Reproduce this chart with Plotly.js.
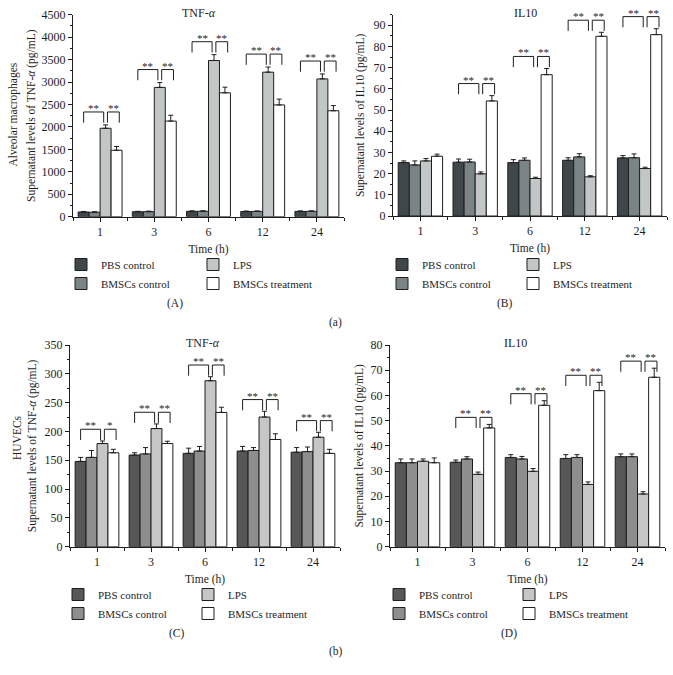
<!DOCTYPE html>
<html><head><meta charset="utf-8">
<script src="https://cdn.plot.ly/plotly-3.0.1.min.js"></script>
<style>html,body{margin:0;padding:0;background:#fff}</style>
</head><body><div id="chart" style="width:673px;height:675px"></div>
<script>
// ---------------- data ----------------
const timePoints = ["1", "3", "6", "12", "24"];
const groupNames = ["PBS control", "BMSCs control", "LPS", "BMSCs treatment"];

// (A) Alveolar macrophages, TNF-alpha (pg/mL)
const amTnfPBS       = [105, 110, 120, 115, 118];
const amTnfPBSErr    = [12, 10, 10, 12, 10];
const amTnfBMSC      = [100, 112, 122, 118, 120];
const amTnfBMSCErr   = [10, 12, 10, 10, 10];
const amTnfLPS       = [1970, 2880, 3480, 3220, 3070];
const amTnfLPSErr    = [75, 110, 130, 115, 110];
const amTnfTreat     = [1480, 2130, 2760, 2490, 2360];
const amTnfTreatErr  = [85, 130, 125, 130, 115];
const amTnfSigLeft   = ["**", "**", "**", "**", "**"];
const amTnfSigRight  = ["**", "**", "**", "**", "**"];

// (B) Alveolar macrophages, IL10 (pg/mL)
const amIl10PBS      = [25.2, 25.4, 25.2, 26.3, 27.4];
const amIl10PBSErr   = [0.8, 1.5, 1.4, 1.2, 1.1];
const amIl10BMSC     = [24.1, 25.5, 26.3, 27.9, 27.5];
const amIl10BMSCErr  = [1.9, 1.3, 1.1, 1.5, 1.8];
const amIl10LPS      = [26.0, 19.9, 17.7, 18.5, 22.4];
const amIl10LPSErr   = [1.1, 0.9, 0.6, 0.5, 0.6];
const amIl10Treat    = [28.2, 54.3, 66.7, 84.8, 85.6];
const amIl10TreatErr = [1.0, 2.5, 2.9, 1.9, 2.8];
const amIl10SigLeft  = ["", "**", "**", "**", "**"];
const amIl10SigRight = ["", "**", "**", "**", "**"];

// (C) HUVECs, TNF-alpha (pg/mL)
const hvTnfPBS       = [148, 159, 162, 166, 164];
const hvTnfPBSErr    = [7, 4, 9, 8, 8];
const hvTnfBMSC      = [155, 161, 166, 167, 165];
const hvTnfBMSCErr   = [12, 11, 8, 5, 8];
const hvTnfLPS       = [179, 205, 288, 225, 190];
const hvTnfLPSErr    = [4.5, 8, 7, 10, 8.5];
const hvTnfTreat     = [163, 179, 233, 186, 162];
const hvTnfTreatErr  = [6, 4, 9, 10, 7];
const hvTnfSigLeft   = ["**", "**", "**", "**", "**"];
const hvTnfSigRight  = ["*", "**", "**", "**", "**"];

// (D) HUVECs, IL10 (pg/mL)
const hvIl10PBS      = [33.3, 33.5, 35.4, 35.0, 35.7];
const hvIl10PBSErr   = [1.5, 0.9, 1.1, 1.5, 1.1];
const hvIl10BMSC     = [33.3, 34.8, 34.8, 35.4, 35.7];
const hvIl10BMSCErr  = [1.5, 0.9, 1.0, 1.1, 1.1];
const hvIl10LPS      = [33.9, 28.7, 29.9, 24.7, 20.9];
const hvIl10LPSErr   = [0.9, 0.9, 1.1, 1.0, 0.9];
const hvIl10Treat    = [33.3, 47.1, 56.1, 61.9, 67.2];
const hvIl10TreatErr = [1.9, 1.4, 1.8, 3.3, 3.6];
const hvIl10SigLeft  = ["", "**", "**", "**", "**"];
const hvIl10SigRight = ["", "**", "**", "**", "**"];

// ---------------- styling / layout ----------------
const FONT = '"Liberation Serif", "Times New Roman", serif';
const INK = '#1e1e1e';
const W = 673, H = 675;
const px = v => v / W;
const py = v => 1 - v / H;
const BARGAP = 0.19;
const colorsAB = ['#40474b', '#7a8485', '#c2c6c6', '#ffffff'];
const colorsCD = ['#575757', '#8e8e8e', '#c6c6c6', '#ffffff'];

const panels = [
  {vals:[amTnfPBS, amTnfBMSC, amTnfLPS, amTnfTreat], errs:[amTnfPBSErr, amTnfBMSCErr, amTnfLPSErr, amTnfTreatErr],
   sigL: amTnfSigLeft, sigR: amTnfSigRight, colors: colorsAB,
   xpx:[73, 344], ypx:[216.7, 14.7], range:[0, 4500], dtick:500,
   ytitle:'Supernatant levels of TNF-<i>α</i> (pg/mL)', standoff:3, off:0.064,
   title:'TNF-<i>α</i>', titlePos:[199, 13], legX:[61, 193], legTop:250, label:'(A)', labelPos:[175, 303]},
  {vals:[amIl10PBS, amIl10BMSC, amIl10LPS, amIl10Treat], errs:[amIl10PBSErr, amIl10BMSCErr, amIl10LPSErr, amIl10TreatErr],
   sigL: amIl10SigLeft, sigR: amIl10SigRight, colors: colorsAB,
   xpx:[393, 667], ypx:[216.0, 14.7], range:[0, 95], dtick:10,
   ytitle:'Supernatant levels of IL10 (pg/mL)', standoff:6, off:0.06,
   title:'IL10', titlePos:[525, 13], legX:[382, 513], legTop:250, label:'(B)', labelPos:[505, 303]},
  {vals:[hvTnfPBS, hvTnfBMSC, hvTnfLPS, hvTnfTreat], errs:[hvTnfPBSErr, hvTnfBMSCErr, hvTnfLPSErr, hvTnfTreatErr],
   sigL: hvTnfSigLeft, sigR: hvTnfSigRight, colors: colorsCD,
   xpx:[70, 340], ypx:[546.7, 345], range:[0, 350], dtick:50,
   ytitle:'Supernatant levels of TNF-<i>α</i> (pg/mL)', standoff:5, off:0.058,
   title:'TNF-<i>α</i>', titlePos:[203, 343], legX:[58, 188], legTop:580, label:'(C)', labelPos:[177, 633]},
  {vals:[hvIl10PBS, hvIl10BMSC, hvIl10LPS, hvIl10Treat], errs:[hvIl10PBSErr, hvIl10BMSCErr, hvIl10LPSErr, hvIl10TreatErr],
   sigL: hvIl10SigLeft, sigR: hvIl10SigRight, colors: colorsCD,
   xpx:[390, 665], ypx:[546.7, 345], range:[0, 80], dtick:10,
   ytitle:'Supernatant levels of IL10 (pg/mL)', standoff:4, off:0.035,
   title:'IL10', titlePos:[515, 343], legX:[379, 509], legTop:580, label:'(D)', labelPos:[509, 633]}
];

const traces = [];
const shapes = [];
const annotations = [];
const layout = {
  width: W, height: H, margin: {l:0, r:0, t:0, b:0},
  paper_bgcolor: '#fff', plot_bgcolor: 'rgba(0,0,0,0)',
  barmode: 'group', bargap: BARGAP, bargroupgap: 0,
  font: {family: FONT, size: 12, color: INK},
  showlegend: true
};

const idx = timePoints.map((_, i) => i);
const bw = (1 - BARGAP) / 4;

panels.forEach((p, k) => {
  const n = k === 0 ? '' : String(k + 1);
  const xa = 'x' + n, ya = 'y' + n;
  const legA = k === 0 ? 'legend' : 'legend' + (2 * k + 1);
  const legB = 'legend' + (2 * k + 2);

  p.vals.forEach((v, s) => {
    traces.push({
      type: 'bar', x: idx, y: v, name: groupNames[s],
      xaxis: xa, yaxis: ya, legend: s < 2 ? legA : legB,
      marker: {color: p.colors[s], line: {color: INK, width: 1}},
      error_y: {type: 'data', symmetric: false, array: p.errs[s], arrayminus: v.map(() => 0),
                color: INK, thickness: 1, width: 2.5},
      hoverinfo: 'x+y'
    });
  });

  const span = p.range[1] - p.range[0];
  const boundaries = timePoints.map((_, i) => i - 0.5).concat([timePoints.length - 0.5]);
  layout['xaxis' + n] = {
    domain: [px(p.xpx[0]), px(p.xpx[1])], anchor: ya, range: [-0.5, timePoints.length - 0.5],
    tickmode: 'array', tickvals: idx, ticktext: timePoints,
    ticks: 'outside', ticklen: 4, tickcolor: INK, tickwidth: 1,
    minor: {tickmode: 'array', tickvals: boundaries, ticks: 'outside', ticklen: 3, tickcolor: INK},
    showline: true, linecolor: INK, linewidth: 1, showgrid: false, zeroline: false,
    tickfont: {family: FONT, size: 12, color: INK},
    title: {text: 'Time (h)', font: {family: FONT, size: 11.5, color: INK}, standoff: 6},
    fixedrange: true
  };
  layout['yaxis' + n] = {
    domain: [py(p.ypx[0]), py(p.ypx[1])], anchor: xa, range: p.range,
    tickmode: 'linear', tick0: 0, dtick: p.dtick,
    ticks: 'outside', ticklen: 4, tickcolor: INK, tickwidth: 1,
    minor: {dtick: p.dtick / 2, ticks: 'outside', ticklen: 2, tickcolor: INK},
    showline: true, linecolor: INK, linewidth: 1, showgrid: false, zeroline: false,
    tickfont: {family: FONT, size: 12, color: INK},
    title: {text: p.ytitle, font: {family: FONT, size: 11.5, color: INK}, standoff: p.standoff},
    fixedrange: true
  };

  // legends (two columns)
  [[legA, p.legX[0]], [legB, p.legX[1]]].forEach(([lid, lx]) => {
    layout[lid] = {
      x: px(lx), y: py(p.legTop), xanchor: 'left', yanchor: 'top',
      bgcolor: 'rgba(0,0,0,0)', borderwidth: 0, orientation: 'v',
      font: {family: FONT, size: 11, color: INK}, itemclick: false, itemdoubleclick: false
    };
  });

  // significance brackets
  const leg = 0.053 * span;
  idx.forEach(i => {
    let maxCap = 0;
    p.vals.forEach((v, s) => { maxCap = Math.max(maxCap, v[i] + p.errs[s][i]); });
    const top = maxCap + p.off * span;
    const pbsX = i - 1.5 * bw, lpsX = i + 0.5 * bw, trtX = i + 1.5 * bw;
    const pairs = [
      [p.sigL[i], pbsX, lpsX - 0.035],
      [p.sigR[i], lpsX + 0.035, trtX + 0.05]
    ];
    pairs.forEach(([txt, a, b]) => {
      if (!txt) return;
      shapes.push({
        type: 'path', xref: xa, yref: ya,
        path: `M${a},${top - leg} L${a},${top} L${b},${top} L${b},${top - leg}`,
        line: {color: INK, width: 1}
      });
      annotations.push({
        xref: xa, yref: ya, x: (a + b) / 2, y: top, text: txt, showarrow: false,
        yanchor: 'bottom', yshift: -4, font: {family: FONT, size: 11, color: INK}
      });
    });
  });

  // panel title and panel letter
  annotations.push({xref: 'paper', yref: 'paper', x: px(p.titlePos[0]), y: py(p.titlePos[1]),
    text: p.title, showarrow: false, xanchor: 'center', yanchor: 'middle',
    font: {family: FONT, size: 12, color: INK}});
  annotations.push({xref: 'paper', yref: 'paper', x: px(p.labelPos[0]), y: py(p.labelPos[1]),
    text: p.label, showarrow: false, xanchor: 'center', yanchor: 'middle',
    font: {family: FONT, size: 11.5, color: INK}});
});

// outer y-title lines and figure letters
annotations.push({xref: 'paper', yref: 'paper', x: px(12.5), y: py(115), text: 'Alveolar macrophages',
  textangle: -90, showarrow: false, xanchor: 'center', yanchor: 'middle', font: {family: FONT, size: 11.5, color: INK}});
annotations.push({xref: 'paper', yref: 'paper', x: px(17), y: py(438), text: 'HUVECs',
  textangle: -90, showarrow: false, xanchor: 'center', yanchor: 'middle', font: {family: FONT, size: 11.5, color: INK}});
annotations.push({xref: 'paper', yref: 'paper', x: px(335), y: py(322), text: '(a)',
  showarrow: false, xanchor: 'center', yanchor: 'middle', font: {family: FONT, size: 11.5, color: INK}});
annotations.push({xref: 'paper', yref: 'paper', x: px(336), y: py(651), text: '(b)',
  showarrow: false, xanchor: 'center', yanchor: 'middle', font: {family: FONT, size: 11.5, color: INK}});

layout.shapes = shapes;
layout.annotations = annotations;

Plotly.newPlot('chart', traces, layout, {displayModeBar: false, staticPlot: true});
</script>
</body></html>
